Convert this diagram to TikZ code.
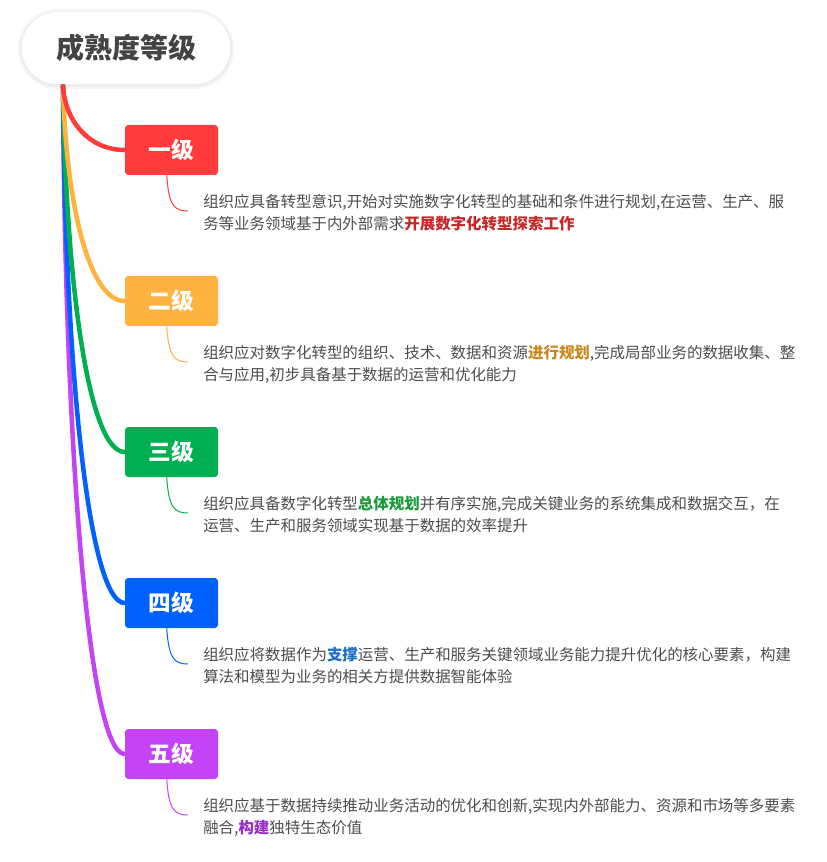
\documentclass[tikz,border=0pt]{standalone}
\usepackage{fontspec}
\setmainfont{Noto Sans CJK SC}
\usetikzlibrary{calc}
\definecolor{cred}{HTML}{FF3B3B}
\definecolor{corange}{HTML}{FFB23F}
\definecolor{cgreen}{HTML}{00B050}
\definecolor{cblue}{HTML}{0061FF}
\definecolor{cpurple}{HTML}{C443F7}
\definecolor{hred}{HTML}{C62828}
\definecolor{hgold}{HTML}{C8881E}
\definecolor{hgreen}{HTML}{1A9A3A}
\definecolor{hblue}{HTML}{1A6EC8}
\definecolor{hpurple}{HTML}{9A2EC8}
\definecolor{bodytxt}{HTML}{4D4D4D}
\definecolor{roottxt}{HTML}{444444}
\begin{document}
\begin{tikzpicture}[x=0.75pt,y=-0.75pt,
  rootbox/.style={fill=white, rounded corners=27pt, minimum width=156pt, minimum height=54pt, inner sep=0pt,
     font=\fontsize{21pt}{24pt}\selectfont\bfseries, text=roottxt},
  levelbox/.style={fill=#1, rounded corners=2.5pt, minimum width=69.75pt, minimum height=37.5pt, inner sep=0pt,
     font=\fontsize{17pt}{19pt}\selectfont\bfseries, text=white},
  bodytext/.style={anchor=north west, inner sep=0pt, align=left, text=bodytxt,
     font=\fontsize{11.6pt}{16.5pt}\selectfont},
  branch/.style={draw=#1, line width=3.4pt, line cap=round},
  twig/.style={draw=#1, line width=0.75pt}
]
\useasboundingbox (0,0) rectangle (826,862);
\fill[white] (0,0) rectangle (826,862);
% root shadow
\fill[black!4, rounded corners=30pt] (18,9) rectangle (234,89);
\fill[black!7, rounded corners=28.5pt] (20,11) rectangle (232,87);
\node[rootbox] (root) at (126,48) {成熟度等级};
\coordinate (hub) at (63,86);

% level boxes
\node[levelbox=cred]    (l1) at (171.5,150) {一级};
\node[levelbox=corange] (l2) at (171.5,301) {二级};
\node[levelbox=cgreen]  (l3) at (171.5,452) {三级};
\node[levelbox=cblue]   (l4) at (171.5,603) {四级};
\node[levelbox=cpurple] (l5) at (171.5,754) {五级};

% branches (draw longest first)
\draw[branch=cpurple] (hub) .. controls (65,453) and (89,754) .. (l5.west);
\draw[branch=cblue]   (hub) .. controls (65,370) and (89,603) .. (l4.west);
\draw[branch=cgreen]  (hub) .. controls (66,287) and (89,452) .. (l3.west);
\draw[branch=corange] (hub) .. controls (66,204) and (89,301) .. (l2.west);
\draw[branch=cred]    (hub) .. controls (65,121) and (89,150) .. (l1.west);
\node[rootbox] at (126,48) {成熟度等级};

% body texts
\node[bodytext] (t1) at (203,194) {组织应具备转型意识,开始对实施数字化转型的基础和条件进行规划,在运营、生产、服\\务等业务领域基于内外部需求\textcolor{hred}{\bfseries 开展数字化转型探索工作}};
\node[bodytext] (t2) at (203,345) {组织应对数字化转型的组织、技术、数据和资源\textcolor{hgold}{\bfseries 进行规划},完成局部业务的数据收集、整\\合与应用,初步具备基于数据的运营和优化能力};
\node[bodytext] (t3) at (203,496) {组织应具备数字化转型\textcolor{hgreen}{\bfseries 总体规划}并有序实施,完成关键业务的系统集成和数据交互，在\\运营、生产和服务领域实现基于数据的效率提升};
\node[bodytext] (t4) at (203,647) {组织应将数据作为\textcolor{hblue}{\bfseries 支撑}运营、生产和服务关键领域业务能力提升优化的核心要素，构建\\算法和模型为业务的相关方提供数据智能体验};
\node[bodytext] (t5) at (203,798) {组织应基于数据持续推动业务活动的优化和创新,实现内外部能力、资源和市场等多要素\\融合,\textcolor{hpurple}{\bfseries 构建}独特生态价值};

% twigs
\foreach \i/\c in {1/cred,2/corange,3/cgreen,4/cblue,5/cpurple}{
  \coordinate (e\i) at ($(t\i.north west)+(-15,17)$);
  \draw[twig=\c] ($(l\i.south west)+(42,0)$) .. controls +(2,30) and +(-14,0) .. (e\i);
}
\end{tikzpicture}
\end{document}
